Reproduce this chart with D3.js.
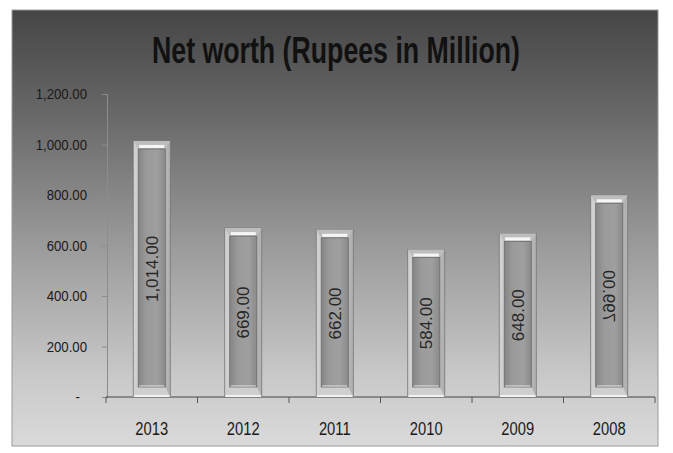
<!DOCTYPE html>
<html>
<head>
<meta charset="utf-8">
<script src="https://cdn.jsdelivr.net/npm/d3@7"></script>
<style>
  html, body { margin: 0; padding: 0; background: #ffffff; }
  svg { display: block; }
</style>
</head>
<body>
<svg id="chart" width="673" height="453"></svg>
<script>
// Net worth by year, Rupees in million
const years = ["2013", "2012", "2011", "2010", "2009", "2008"];
const netWorth = [1014, 669, 662, 584, 648, 799];
const yTicks = [0, 200, 400, 600, 800, 1000, 1200];
const mirroredLabels = ["2008"];
const titleText = "Net worth (Rupees in Million)";

const svg = d3.select("#chart");
const defs = svg.append("defs");

// Panel background: dark at the top, fading to light grey at the bottom
const bg = defs.append("linearGradient").attr("id", "bgGrad")
  .attr("x1", 0).attr("y1", 0).attr("x2", 0).attr("y2", 1);
[[0, "#454545"], [0.25, "#6a6a6a"], [0.55, "#9c9c9c"], [0.85, "#cacaca"], [1, "#dadada"]]
  .forEach(([o, c]) => bg.append("stop").attr("offset", o).attr("stop-color", c));

// Bar face shading
const face = defs.append("linearGradient").attr("id", "faceGrad")
  .attr("x1", 0).attr("y1", 0).attr("x2", 1).attr("y2", 0);
[[0, "#858585"], [0.3, "#9a9a9a"], [0.7, "#9f9f9f"], [1, "#8a8a8a"]]
  .forEach(([o, c]) => face.append("stop").attr("offset", o).attr("stop-color", c));

const rim = defs.append("linearGradient").attr("id", "rimGrad")
  .attr("x1", 0).attr("y1", 0).attr("x2", 1).attr("y2", 0);
[[0, "#d2d2d2"], [0.5, "#c2c2c2"], [1, "#b0b0b0"]]
  .forEach(([o, c]) => rim.append("stop").attr("offset", o).attr("stop-color", c));

svg.append("rect")
  .attr("x", 12).attr("y", 10).attr("width", 646).attr("height", 436)
  .attr("fill", "url(#bgGrad)")
  .attr("stroke", "#9a9a9a").attr("stroke-width", 1);

// Title
svg.append("text")
  .attr("x", 336).attr("y", 63)
  .attr("text-anchor", "middle")
  .attr("font-family", "'Liberation Sans', Arial, sans-serif")
  .attr("font-weight", "bold")
  .attr("font-size", 36)
  .attr("fill", "#111")
  .attr("textLength", 368)
  .attr("lengthAdjust", "spacingAndGlyphs")
  .text(titleText);

// Scales
const x = d3.scaleBand().domain(years).range([106, 655]).padding(0);
const y = d3.scaleLinear().domain([0, 1200]).range([397, 94]);

const sans = "'Liberation Sans', Arial, sans-serif";
const squeeze = 0.88;   // horizontal compression for the narrow axis lettering

// Value axis
const yAxis = d3.axisLeft(y)
  .tickValues(yTicks)
  .tickSize(5)
  .tickPadding(15)
  .tickFormat(d => d === 0 ? "-" : d3.format(",.2f")(d));

const gy = svg.append("g").attr("transform", "translate(107,0)").call(yAxis);
gy.select(".domain").attr("stroke", "#8c8c8c").attr("stroke-width", 1);
gy.selectAll(".tick line").attr("stroke", "#8c8c8c");
gy.selectAll(".tick text")
  .attr("font-family", sans)
  .attr("font-size", 15)
  .attr("fill", "#1a1a1a")
  .attr("x", d => (d === 0 ? -27 : -20) / squeeze)
  .attr("transform", `scale(${squeeze},1)`);

// Category axis: line plus boundary ticks between categories
const gx = svg.append("g").attr("transform", "translate(0,397)");
gx.append("line")
  .attr("x1", x.range()[0]).attr("x2", x.range()[1])
  .attr("stroke", "#444").attr("stroke-width", 1);
const boundaries = years.map(d => x(d)).concat([x(years[years.length - 1]) + x.bandwidth()]);
gx.selectAll("line.bound").data(boundaries).join("line")
  .attr("class", "bound")
  .attr("x1", d => d).attr("x2", d => d)
  .attr("y1", 0).attr("y2", 6)
  .attr("stroke", "#555");
gx.selectAll("text.cat").data(years).join("text")
  .attr("class", "cat")
  .attr("transform", d => `translate(${x(d) + x.bandwidth() / 2},38) scale(0.82,1)`)
  .attr("text-anchor", "middle")
  .attr("font-family", sans)
  .attr("font-size", 18)
  .attr("fill", "#1a1a1a")
  .text(d => d);

// Bevelled bars
const barW = x.bandwidth() * 0.405;
const data = years.map((yr, i) => ({ yr, v: netWorth[i] }));

const bars = svg.append("g").selectAll("g.bar").data(data).join("g").attr("class", "bar");

bars.each(function(d) {
  const g = d3.select(this);
  const cx = x(d.yr) + x.bandwidth() / 2;
  const x0 = cx - barW / 2, x1 = cx + barW / 2;
  const yt = y(d.v), yb = y(0);
  const inset = 5;

  // outer rim
  g.append("rect")
    .attr("x", x0).attr("y", yt).attr("width", barW).attr("height", yb - yt)
    .attr("fill", "url(#rimGrad)")
    .attr("stroke", "#767676").attr("stroke-width", 0.8);

  // top bevel
  g.append("path")
    .attr("d", `M${x0},${yt} L${x1},${yt} L${x1 - inset},${yt + inset + 3} L${x0 + inset},${yt + inset + 3} Z`)
    .attr("fill", "#bdbdbd");
  // bottom bevel
  g.append("path")
    .attr("d", `M${x0},${yb} L${x1},${yb} L${x1 - inset},${yb - inset - 5} L${x0 + inset},${yb - inset - 5} Z`)
    .attr("fill", "#cfcfcf");

  // inner face
  g.append("rect")
    .attr("x", x0 + inset).attr("y", yt + inset + 3)
    .attr("width", barW - 2 * inset).attr("height", (yb - inset - 5) - (yt + inset + 3))
    .attr("fill", "url(#faceGrad)")
    .attr("stroke", "#6a6a6a").attr("stroke-width", 0.8);

  // highlights
  g.append("rect")
    .attr("x", x0 + inset + 1).attr("y", yt + 4)
    .attr("width", barW - 2 * inset - 2).attr("height", 3)
    .attr("fill", "#f6f6f6");
  g.append("rect")
    .attr("x", x0 + 1).attr("y", yb - 2)
    .attr("width", barW - 2).attr("height", 2)
    .attr("fill", "#f2f2f2");
  g.append("line")
    .attr("x1", x0 + inset + 1).attr("x2", x1 - inset - 1)
    .attr("y1", yb - inset - 6).attr("y2", yb - inset - 6)
    .attr("stroke", "#e6e6e6").attr("stroke-width", 1);

  // value label, vertical in the bar centre
  const ly = (yt + yb) / 2;
  const mirrored = mirroredLabels.includes(d.yr);
  g.append("text")
    .attr("transform", mirrored
      ? `translate(${cx},${ly}) rotate(90) scale(-1,1)`
      : `translate(${cx},${ly}) rotate(-90)`)
    .attr("text-anchor", "middle")
    .attr("dy", "0.35em")
    .attr("font-family", sans)
    .attr("font-size", 17)
    .attr("fill", "#262626")
    .text(d3.format(",.2f")(d.v));
});
</script>
</body>
</html>
